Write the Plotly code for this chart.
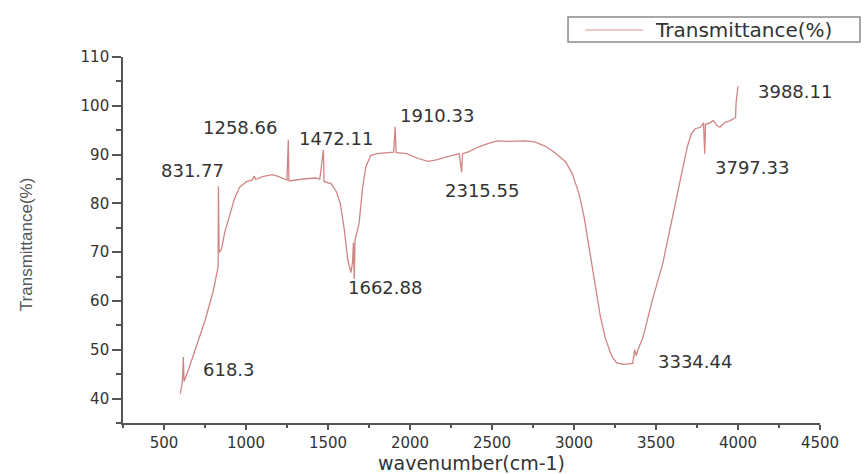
import plotly.graph_objects as go

# ---- data ----
wavenumber = [600, 612, 618, 622, 650, 700, 750, 800, 830, 832, 836, 850, 870, 900, 930, 960,
              1000, 1040, 1050, 1060, 1100, 1160, 1200, 1250, 1258, 1262, 1300, 1350, 1420, 1450,
              1472, 1476, 1520, 1550, 1575, 1600, 1620, 1640, 1650, 1655, 1660, 1665, 1690, 1710,
              1730, 1760, 1800, 1850, 1900, 1910, 1915, 1980, 2050, 2110, 2160, 2220, 2300, 2315,
              2320, 2360, 2420, 2470, 2530, 2600, 2700, 2760, 2820, 2880, 2950, 2990, 3030, 3060,
              3100, 3130, 3160, 3190, 3230, 3260, 3300, 3358, 3370, 3380, 3390, 3420, 3450, 3480,
              3540, 3584, 3620, 3655, 3690, 3716, 3740, 3770, 3790, 3797, 3802, 3830, 3850, 3870,
              3890, 3920, 3950, 3975, 3985, 3988, 3995, 4000]
transmittance = [41.0, 43.5, 48.5, 43.5, 46.0, 51.0, 56.0, 62.0, 67.0, 83.5, 70.0, 70.5, 74.0, 77.5, 81.0, 83.3,
                 84.4, 84.8, 85.6, 84.9, 85.5, 85.9, 85.5, 84.8, 93.0, 84.6, 84.8, 85.0, 85.2, 85.0,
                 91.0, 84.5, 84.0, 82.5, 80.0, 74.5, 68.5, 65.8, 68.0, 72.0, 64.5, 72.5, 76.0, 83.0,
                 87.4, 89.8, 90.2, 90.3, 90.5, 95.7, 90.4, 90.2, 89.2, 88.6, 88.9, 89.5, 90.2, 86.4,
                 90.2, 90.6, 91.6, 92.2, 92.8, 92.7, 92.8, 92.6, 91.8, 90.5, 88.5, 86.0, 82.0, 77.5,
                 69.0, 62.5, 57.0, 52.5, 48.7, 47.3, 47.0, 47.2, 50.0, 48.8, 50.0, 52.5, 56.5, 60.5,
                 67.5, 74.4, 80.5, 86.0, 91.5, 94.3, 95.3, 95.6, 96.5, 90.2, 96.2, 96.5, 97.0, 96.0,
                 95.6, 96.6, 96.9, 97.4, 97.6, 100.5, 102.5, 104.0]

series_name = "Transmittance(%)"

peak_labels = ["618.3", "831.77", "1258.66", "1472.11", "1662.88",
               "1910.33", "2315.55", "3334.44", "3797.33", "3988.11"]
label_x = [724, 674, 964, 1550, 1850, 2162, 2436, 3737, 4085, 4350]
label_y = [46.0, 86.8, 95.5, 93.3, 62.7, 98.0, 82.6, 47.6, 87.4, 102.9]
label_anchor = ["left", "center", "center", "center", "center",
                "center", "center", "center", "center", "center"]

x_ticks = [500, 1000, 1500, 2000, 2500, 3000, 3500, 4000, 4500]
y_ticks = [40, 50, 60, 70, 80, 90, 100, 110]

axis_color = "#555555"
text_color = "#333333"
line_color = "#d08585"

fig = go.Figure()
fig.add_trace(go.Scatter(
    x=wavenumber, y=transmittance, mode="lines",
    name=series_name, showlegend=False,
    line=dict(color=line_color, width=1.3),
))

for t, x, y, a in zip(peak_labels, label_x, label_y, label_anchor):
    fig.add_annotation(x=x, y=y, text=t, showarrow=False, xanchor=a, yanchor="middle",
                       font=dict(family="DejaVu Sans", size=18, color=text_color))

# legend box (drawn to match the reference's wide legend frame)
fig.add_shape(type="rect", xref="paper", yref="paper",
              x0=0.6385, x1=1.0574, y0=1.041, y1=1.109,
              line=dict(color="#8a8a8a", width=1.5), fillcolor="white", layer="above")
fig.add_shape(type="line", xref="paper", yref="paper",
              x0=0.663, x1=0.746, y0=1.0738, y1=1.0738,
              line=dict(color="#e2b8b8", width=1.5), layer="above")
fig.add_annotation(xref="paper", yref="paper", x=0.7604, y=1.0738, text=series_name,
                   showarrow=False, xanchor="left", yanchor="middle",
                   font=dict(family="DejaVu Sans", size=20, color=text_color))

# y-axis title
fig.add_annotation(xref="paper", yref="paper", x=-0.139, y=0.489, text="Transmittance(%)",
                   showarrow=False, textangle=-90, xanchor="center", yanchor="middle",
                   font=dict(family="Liberation Sans", size=17, color="#555555"))

fig.update_layout(
    width=865, height=474,
    margin=dict(l=123, r=45, t=57, b=51, autoexpand=False),
    paper_bgcolor="white", plot_bgcolor="white",
    showlegend=False,
    font=dict(family="DejaVu Sans", color=text_color),
)

fig.update_xaxes(
    range=[250, 4500], tickmode="array", tickvals=x_ticks,
    ticktext=[str(v) for v in x_ticks], automargin=False,
    showgrid=False, zeroline=False, showline=True, linecolor=axis_color, linewidth=1.6,
    ticks="outside", ticklen=5, tickwidth=1.5, tickcolor=axis_color,
    minor=dict(ticks="outside", dtick=250, tick0=250, ticklen=3, tickwidth=1.5, tickcolor=axis_color),
    tickfont=dict(family="DejaVu Sans", size=15, color=text_color),
    title=dict(text="wavenumber(cm-1)", standoff=4,
               font=dict(family="DejaVu Sans", size=19, color=text_color)),
)
fig.update_yaxes(
    range=[35, 110], tickmode="array", tickvals=y_ticks,
    ticktext=[str(v) for v in y_ticks], automargin=False,
    showgrid=False, zeroline=False, showline=True, linecolor=axis_color, linewidth=1.6,
    ticks="outside", ticklen=9, tickwidth=1.5, tickcolor=axis_color,
    minor=dict(ticks="outside", dtick=5, tick0=35, ticklen=5, tickwidth=1.5, tickcolor=axis_color),
    tickfont=dict(family="DejaVu Sans", size=15, color=text_color),
)

fig.write_html("out.html", config={"displayModeBar": False},
               post_script="document.body.style.margin='0';document.body.style.overflow='hidden';")
